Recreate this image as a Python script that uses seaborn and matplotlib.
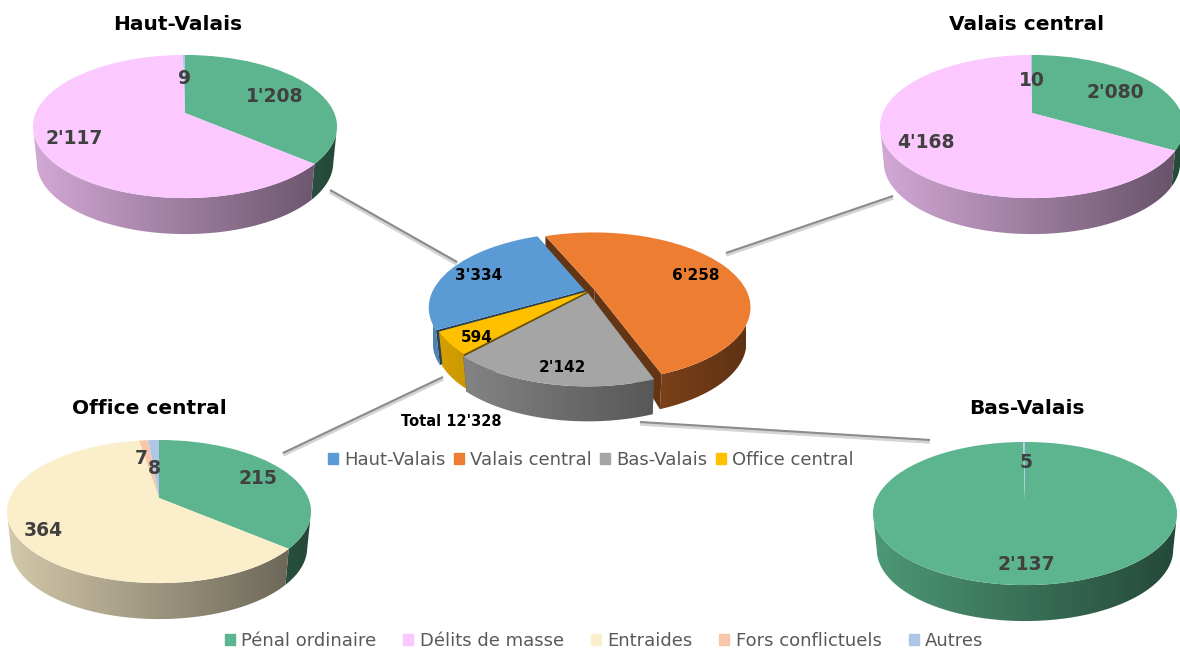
import numpy as np
import seaborn as sns
from matplotlib import pyplot as plt
from matplotlib.patches import Patch, PathPatch, Polygon
from matplotlib.path import Path
from matplotlib.transforms import Transform

# Data
regions = ['Haut-Valais', 'Valais central', 'Bas-Valais', 'Office central']
region_totals = [3334, 6258, 2142, 594]
total_label = "Total 12'328"
case_types = ['Pénal ordinaire', 'Délits de masse', 'Entraides', 'Fors conflictuels', 'Autres']
haut_valais = [1208, 2117, 0, 0, 9]
valais_central = [2080, 4168, 0, 0, 10]
bas_valais = [2137, 0, 0, 0, 5]
office_central = [215, 0, 364, 7, 8]

region_colors = sns.color_palette(['#5B9BD5', '#ED7D31', '#A5A5A5', '#FFC000'])
case_colors = sns.color_palette(['#5CB58E', '#FBC8FF', '#FBEFCB', '#F8C6A8', '#AFC6E9'])


def fmt(n):
    return f"{n:,}".replace(',', "'")


class DiscProjection(Transform):
    # flat disc seen from above, back half looks smaller than the front
    input_dims = 2
    output_dims = 2
    has_inverse = False

    def __init__(self, cx, cy, rx, ry, k, drop=0, shrink=1):
        super().__init__()
        self.cx, self.cy, self.rx, self.ry, self.k = cx, cy, rx, ry, k
        self.drop, self.shrink = drop, shrink

    def transform_non_affine(self, values):
        values = np.asarray(values, dtype=float)
        w = 1 + self.k * values[:, 1]
        x = self.cx + self.rx * self.shrink * values[:, 0] / w
        y = self.cy + self.drop - self.ry * values[:, 1] / w
        return np.column_stack([x, y])


def arc(wedge, a, b):
    t = np.radians(np.linspace(a, b, 120))
    return np.column_stack([wedge.center[0] + np.cos(t), wedge.center[1] + np.sin(t)])


def draw_side(ax, wedge, color, top, bottom, left, right, base_z, cut_faces):
    # flat inner faces of exploded slices, thin band at the back, full height at the front rim
    if cut_faces:
        band = DiscProjection(top.cx, top.cy, top.rx, top.ry, top.k, drop=12)
        for angle in (wedge.theta1, wedge.theta2):
            tip = np.array([wedge.center])
            rim = arc(wedge, angle, angle)[:1]
            rim_low = bottom if np.sin(np.radians(angle)) < 0 else band
            pts = np.vstack([top.transform(tip), top.transform(rim), rim_low.transform(rim), band.transform(tip)])
            ax.add_patch(Polygon(pts, closed=True, fc=np.array(color) * 0.42, ec='none', zorder=base_z))

    # outer rim, only the part facing the viewer, shaded from left to right
    low = 180 + np.degrees(np.arcsin(top.k))
    high = 360 - np.degrees(np.arcsin(top.k))
    for shift in (-360, 0, 360, 720, 1080):
        a = max(wedge.theta1 + shift, low)
        b = min(wedge.theta2 + shift, high)
        if a >= b:
            continue
        pts = arc(wedge, a, b)
        outline = np.vstack([top.transform(pts), bottom.transform(pts)[::-1]])
        shade = np.linspace(0.84, 0.40, 256)[None, :, None] * np.array(color)[None, None, :]
        im = ax.imshow(shade, extent=(left, right, 700, 0), aspect='auto', zorder=base_z + 1,
                       interpolation='bilinear')
        clip = PathPatch(Path(outline, closed=False), transform=ax.transData, fc='none', ec='none')
        im.set_clip_path(clip)


def draw_pie(ax, values, colors, cx, cy, rx, ry, k, depth, startangle=90, explode=None, order=None):
    top = DiscProjection(cx, cy, rx, ry, k)
    bottom = DiscProjection(cx, cy, rx, ry, k, drop=depth, shrink=0.975)
    wedges, _ = ax.pie(values, colors=colors, startangle=startangle, counterclock=False, explode=explode,
                       wedgeprops={'transform': top + ax.transData, 'linewidth': 0})
    half_width = rx / np.sqrt(1 - k ** 2)
    order = order if order is not None else range(len(wedges))
    for rank, i in enumerate(order):
        z = 2 + rank * 3
        if values[i] == 0:
            continue
        draw_side(ax, wedges[i], colors[i], top, bottom, cx - half_width, cx + half_width, z, explode is not None)
        wedges[i].set_zorder(z + 2)
    return wedges


def connector(ax, x, y):
    ax.plot(x, [v + 1.5 for v in y], color='#d4d4d4', lw=3.2, solid_capstyle='butt', zorder=1)
    ax.plot(x, y, color='#8c8c8c', lw=1.5, solid_capstyle='butt', zorder=1)


sns.set_theme(style='white')
plt.rcParams['font.family'] = ['DejaVu Sans']

fig = plt.figure(figsize=(11.8, 6.5), dpi=100)
ax = fig.add_axes([0, 0, 1, 1])

connector(ax, [330, 457], [190, 262])
connector(ax, [726, 893], [253, 196])
connector(ax, [283, 443], [453, 377])
connector(ax, [640, 930], [422, 440])

draw_pie(ax, haut_valais, case_colors, 185, 113, 149.3, 69, 0.189, 36)
draw_pie(ax, valais_central, case_colors, 1032, 113, 149.3, 69, 0.189, 36)
draw_pie(ax, office_central, case_colors, 159, 498, 149.3, 69, 0.189, 36)
draw_pie(ax, bas_valais, case_colors, 1025, 500, 149.3, 69, 0.189, 36)
draw_pie(ax, region_totals, region_colors, 589, 291, 152, 71, 0.227, 35,
         startangle=-150, explode=[0.03, 0.04, 0.03, 0.01], order=[1, 0, 3, 2])

ax.set_xlim(0, 1180)
ax.set_ylim(650, 0)
ax.set_aspect('auto')
ax.axis('off')

# Titles
title_style = dict(fontsize=14.5, fontweight='bold', color='black', ha='center', va='center', zorder=40)
ax.text(178, 25, regions[0], **title_style)
ax.text(1027, 25, regions[1], **title_style)
ax.text(149, 409, regions[3], **title_style)
ax.text(1027, 409, regions[2], **title_style)

# Slice labels
dark = dict(fontsize=13.5, fontweight='bold', color='#404040', ha='center', va='center', zorder=40)
ax.text(275, 96, fmt(haut_valais[0]), **dark)
ax.text(74, 138, fmt(haut_valais[1]), **dark)
ax.text(185, 79, fmt(haut_valais[4]), **dark)
ax.text(1115, 92, fmt(valais_central[0]), **dark)
ax.text(926, 142, fmt(valais_central[1]), **dark)
ax.text(1032, 81, fmt(valais_central[4]), **dark)
ax.text(258, 479, fmt(office_central[0]), **dark)
ax.text(43, 530, fmt(office_central[2]), **dark)
ax.text(141, 459, fmt(office_central[3]), **dark)
ax.text(154, 469, fmt(office_central[4]), **dark)
ax.text(1026, 565, fmt(bas_valais[0]), **dark)
ax.text(1026, 463, fmt(bas_valais[4]), **dark)

black = dict(fontsize=11, fontweight='bold', color='black', ha='center', va='center', zorder=40)
ax.text(479, 275, fmt(region_totals[0]), **black)
ax.text(696, 275, fmt(region_totals[1]), **black)
ax.text(562, 367, fmt(region_totals[2]), **black)
ax.text(477, 337, fmt(region_totals[3]), **black)
ax.text(451, 422, total_label, fontsize=10.5, fontweight='bold', color='black', ha='center', va='center', zorder=40)

# Legends
legend_style = dict(loc='center', frameon=False, ncol=5, fontsize=13, labelcolor='#595959',
                    handlelength=0.55, handleheight=0.55, handletextpad=0.35, borderpad=0, borderaxespad=0)
fig.legend(handles=[Patch(color=c, label=n) for c, n in zip(region_colors, regions)],
           bbox_to_anchor=(591 / 1180, 1 - 460 / 650), columnspacing=0.45, **legend_style)
fig.legend(handles=[Patch(color=c, label=n) for c, n in zip(case_colors, case_types)],
           bbox_to_anchor=(604 / 1180, 1 - 641 / 650), columnspacing=1.5, **legend_style)

fig.savefig('out.png', dpi=100)
